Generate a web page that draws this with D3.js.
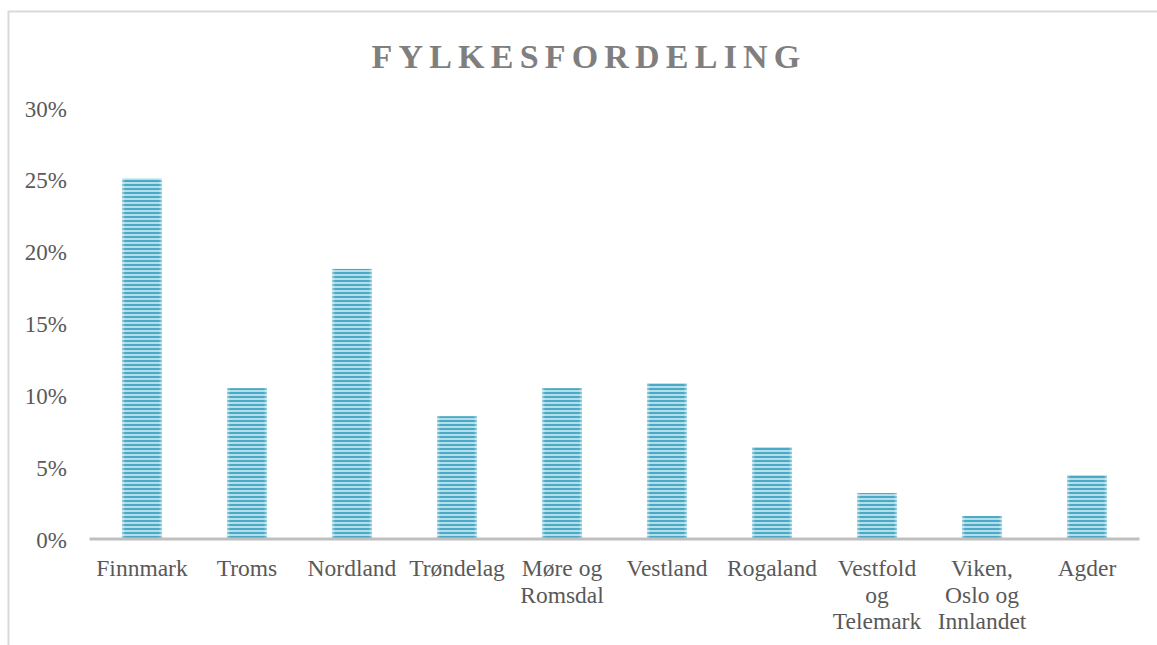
<!DOCTYPE html>
<html><head><meta charset="utf-8">
<script src="https://cdn.jsdelivr.net/npm/d3@7"></script>
<style>body{margin:0;background:#fff}svg{display:block}</style>
</head><body>
<script>
const categories = ["Finnmark","Troms","Nordland","Trøndelag","Møre og\nRomsdal","Vestland","Rogaland","Vestfold\nog\nTelemark","Viken,\nOslo og\nInnlandet","Agder"];
const values = [0.251, 0.105, 0.188, 0.0855, 0.105, 0.1085, 0.064, 0.032, 0.016, 0.0445];
const yTicks = [0, 0.05, 0.10, 0.15, 0.20, 0.25, 0.30];
const title = "FYLKESFORDELING";

const W = 1157, H = 645;
const FONT = "Liberation Serif, Times New Roman, serif";
const svg = d3.select("body").append("svg").attr("width", W).attr("height", H);

const defs = svg.append("defs");
const pat = defs.append("pattern").attr("id","stripes").attr("patternUnits","userSpaceOnUse")
  .attr("width",8).attr("height",4);
pat.append("rect").attr("width",8).attr("height",4).attr("fill","#b4dfea");
pat.append("rect").attr("y",0).attr("width",8).attr("height",2).attr("fill","#4aaac5");
const grad = defs.append("linearGradient").attr("id","edge").attr("x1","0").attr("x2","1");
grad.append("stop").attr("offset","0").attr("stop-color","#fff").attr("stop-opacity",0.45);
grad.append("stop").attr("offset","0.08").attr("stop-color","#fff").attr("stop-opacity",0);
grad.append("stop").attr("offset","0.92").attr("stop-color","#fff").attr("stop-opacity",0);
grad.append("stop").attr("offset","1").attr("stop-color","#fff").attr("stop-opacity",0.45);

// chart border
svg.append("path").attr("d","M8.5,645 L8.5,11.5 L1157,11.5").attr("fill","none")
  .attr("stroke","#d9d9d9").attr("stroke-width",2);

const x = d3.scaleBand().domain(categories).range([89.5, 1139.5]).paddingInner(0.619).paddingOuter(0.3095);
const y = d3.scaleLinear().domain([0, 0.30]).range([539, 108]);

svg.append("text").attr("x", 589).attr("y", 68).attr("text-anchor","middle")
  .style("font-family", FONT).attr("font-weight","bold")
  .attr("font-size", 34).attr("letter-spacing", 6.2).attr("fill","#7f7f7f").text(title);

// y axis labels
const yAxis = d3.axisLeft(y).tickValues(yTicks).tickFormat(d3.format(".0%")).tickSize(0).tickPadding(0);
const ya = svg.append("g").attr("transform","translate(67,0)").call(yAxis);
ya.select(".domain").remove();
ya.selectAll("text").style("font-family", FONT)
  .attr("font-size", 23).attr("fill","#595959").attr("dy","0.35em");

// bars
const bars = svg.append("g");
categories.forEach((c,i)=>{
  bars.append("rect").attr("x", x(c)).attr("y", y(values[i])).attr("width", x.bandwidth())
    .attr("height", y(0)-y(values[i])).attr("fill","url(#stripes)");
  bars.append("rect").attr("x", x(c)).attr("y", y(values[i])).attr("width", x.bandwidth())
    .attr("height", y(0)-y(values[i])).attr("fill","url(#edge)");
});

// x axis
const xAxis = d3.axisBottom(x).tickSize(0).tickFormat("");
const xa = svg.append("g").attr("transform",`translate(0,${y(0)})`).call(xAxis);
xa.select(".domain").attr("stroke","#bfbfbf").attr("stroke-width",3)
  .attr("d", `M89.5,0H1139.5`);

const lab = svg.append("g").style("font-family", FONT)
  .attr("font-size",23.5).attr("fill","#595959").attr("text-anchor","middle");
categories.forEach(c=>{
  const t = lab.append("text").attr("x", x(c)+x.bandwidth()/2).attr("y", 576);
  c.split("\n").forEach((line,j)=>{
    t.append("tspan").attr("x", x(c)+x.bandwidth()/2).attr("dy", j===0?0:26.5).text(line);
  });
});
</script>
</body></html>
